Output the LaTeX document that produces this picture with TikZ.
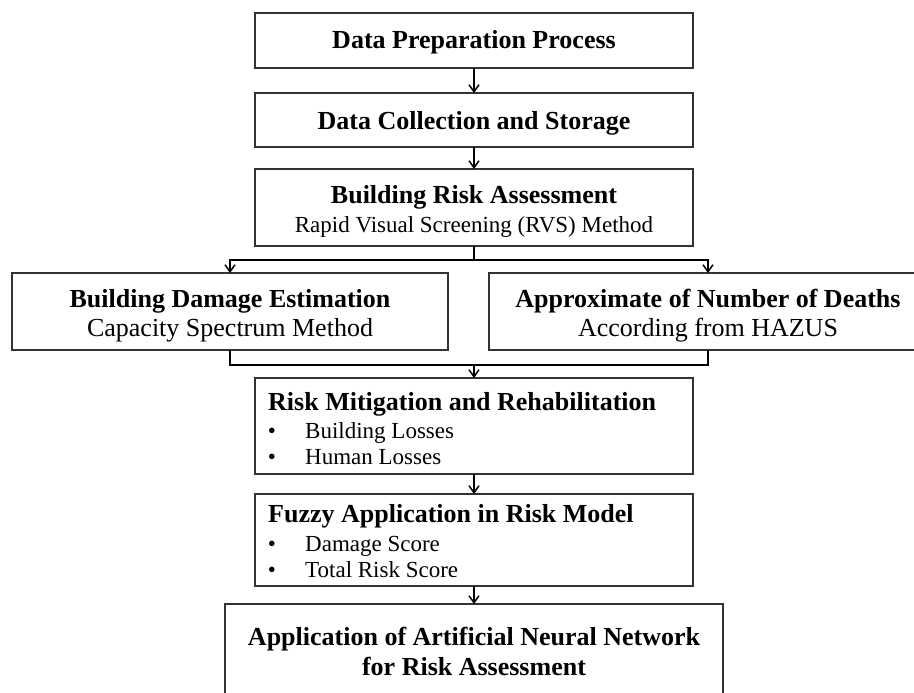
\documentclass[tikz,border=0pt]{standalone}
\usepackage{fontspec}
\setmainfont{Liberation Serif}
\usetikzlibrary{arrows.meta}
\begin{document}
\begin{tikzpicture}[x=1pt,y=-1pt,
  box/.style={draw=black!80, line width=1.2pt, inner sep=0pt, outer sep=0pt, fill=white},
  conn/.style={line width=1.6pt, black},
  arr/.style={conn, -{Straight Barb[length=7pt,width=10pt,line width=1.5pt]}},
  hd/.style={font=\fontsize{26}{30}\selectfont\bfseries, anchor=base, inner sep=0pt},
  sub/.style={font=\fontsize{23}{27}\selectfont, anchor=base, inner sep=0pt},
  subl/.style={font=\fontsize{26}{30}\selectfont, anchor=base, inner sep=0pt}
]
\useasboundingbox (0,0) rectangle (914,693);
\clip (0,0) rectangle (914,693);
\fill[white] (0,0) rectangle (914,693);

% boxes
\node[box, minimum width=438pt, minimum height=55pt] (b1) at (474,40.5) {};
\node[box, minimum width=438pt, minimum height=54pt] (b2) at (474,120) {};
\node[box, minimum width=438pt, minimum height=77pt] (b3) at (474,207.5) {};
\node[box, minimum width=436pt, minimum height=77pt] (bl) at (230,311.5) {};
\node[box, minimum width=438pt, minimum height=77pt] (br) at (708,311.5) {};
\node[box, minimum width=438pt, minimum height=96pt] (rm) at (474,426) {};
\node[box, minimum width=438pt, minimum height=92pt] (fz) at (474,540) {};
\node[box, minimum width=498pt, minimum height=136pt] (ann) at (474,672) {};

% connectors
\coordinate (split) at (474,260);
\coordinate (merge) at (474,365);
\draw[arr] (b1.south) -- (b2.north);
\draw[arr] (b2.south) -- (b3.north);
\draw[conn] (b3.south) -- (split);
\draw[arr] (split) -| (bl.north);
\draw[arr] (split) -| (br.north);
\draw[conn] (bl.south) |- (merge);
\draw[conn] (br.south) |- (merge);
\draw[arr] (merge) -- (rm.north);
\draw[arr] (rm.south) -- (fz.north);
\draw[arr] (fz.south) -- (ann.north);

% texts
\node[hd] (t1) at (474,49) {Data Preparation Process};
\node[hd] (t2) at (474,129) {Data Collection and Storage};
\node[hd] (t3a) at (474,203) {Building Risk Assessment};
\node[sub] (t3b) at (474,232) {Rapid Visual Screening (RVS) Method};
\node[hd] (tla) at (230,307) {Building Damage Estimation};
\node[subl] (tlb) at (230,336) {Capacity Spectrum Method};
\node[hd] (tra) at (708,307) {Approximate of Number of Deaths};
\node[subl] (trb) at (708,336) {According from HAZUS};

\node[hd, anchor=base west] (rma) at (268,410) {Risk Mitigation and Rehabilitation};
\node[sub] (rmd1) at (272,438) {\textbullet};
\node[sub, anchor=base west] (rmb1) at (305,438) {Building Losses};
\node[sub] (rmd2) at (272,464) {\textbullet};
\node[sub, anchor=base west] (rmb2) at (305,464) {Human Losses};

\node[hd, anchor=base west] (fza) at (268,522) {Fuzzy Application in Risk Model};
\node[sub] (fzd1) at (272,551) {\textbullet};
\node[sub, anchor=base west] (fzb1) at (305,551) {Damage Score};
\node[sub] (fzd2) at (272,577) {\textbullet};
\node[sub, anchor=base west] (fzb2) at (305,577) {Total Risk Score};

\node[hd] (anna) at (474,645) {Application of Artificial Neural Network};
\node[hd] (annb) at (474,675) {for Risk Assessment};
\end{tikzpicture}
\end{document}
